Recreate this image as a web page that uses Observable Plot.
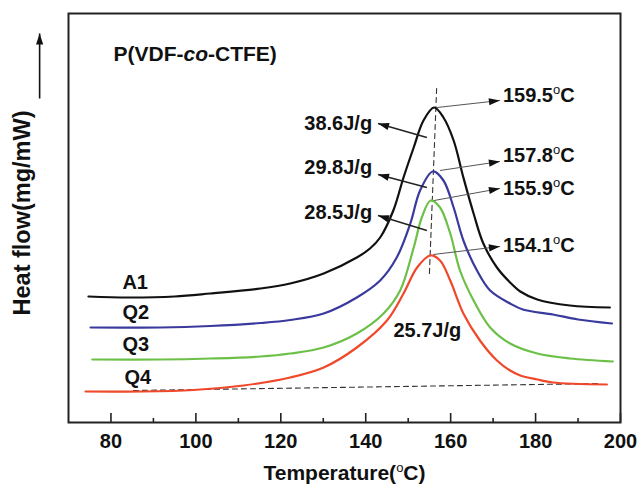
<!DOCTYPE html>
<html>
<head>
<meta charset="utf-8">
<script src="https://cdn.jsdelivr.net/npm/d3@7"></script>
<script src="https://cdn.jsdelivr.net/npm/@observablehq/plot@0.6"></script>
<style>
  html, body { margin: 0; padding: 0; background: white; }
</style>
</head>
<body>
<div id="chart"></div>
<script>
// ---- data (temperature in °C, heat flow in arbitrary stacked units) ----
const a1 = [[74.7,12.6],[84.0,12.5],[95.0,12.6],[103.4,12.9],[115.2,13.4],[122.2,13.9],[130.1,14.9],[137.9,16.5],[141.0,17.4],[143.4,18.5],[146.5,21.2],[148.9,24.5],[151.3,27.5],[153.6,30.2],[156.1,31.5],[158.3,30.5],[160.7,28.2],[163.0,24.5],[165.4,20.9],[167.7,17.9],[170.9,15.5],[174.0,14.0],[176.4,13.1],[180.4,12.3],[188.1,11.7],[197.5,11.5]];
const q2 = [[75.2,9.5],[91.6,9.5],[103.4,9.65],[115.2,9.95],[122.2,10.25],[130.1,10.9],[137.9,12.5],[143.4,14.2],[147.3,16.5],[150.5,19.9],[152.8,23.2],[155.8,25.1],[158.3,24.2],[160.7,21.5],[163.0,18.2],[166.2,15.2],[169.3,13.2],[174.0,11.9],[177.0,11.3],[184.1,10.8],[190.0,10.3],[198.0,9.9]];
const q3 = [[75.6,6.3],[91.6,6.3],[103.4,6.4],[115.2,6.6],[122.2,6.9],[130.1,7.5],[137.9,8.9],[144.2,10.9],[148.1,13.2],[151.3,17.5],[153.2,20.5],[155.3,22.2],[157.5,21.5],[159.9,18.9],[162.2,15.2],[165.4,12.2],[169.3,9.5],[174.0,7.9],[180.4,6.9],[188.1,6.4],[198.2,6.1]];
const q4 = [[74.0,3.1],[87.6,3.1],[99.4,3.25],[111.2,3.7],[122.2,4.5],[130.1,5.5],[137.9,7.5],[145.0,10.2],[148.9,12.9],[152.1,15.5],[155.2,16.7],[157.5,16.2],[159.9,14.2],[163.0,10.9],[166.9,8.2],[170.9,6.2],[174.0,5.2],[176.4,4.7],[180.4,4.3],[184.1,4.0],[196.8,3.8]];

const seriesNames = ["A1", "Q2", "Q3", "Q4"];
const seriesColors = ["#111111", "#3a3a9e", "#6cc048", "#f0482a"];
const seriesLabelPos = [[82.7,14.0],[82.7,11.0],[82.7,7.8],[83.2,4.5]];

const xTicks = [80, 100, 120, 140, 160, 180, 200];
const xMinorTicks = [90, 110, 130, 150, 170, 190];

const baseline = [[85.3,3.2],[195.5,3.9]];
const peakLine = [[156.7,33.4],[155.0,14.9]];

// peak-temperature annotations
const peakLabels = ["159.5°C", "157.8°C", "155.9°C", "154.1°C"];
const peakArrowFrom = [[156.8,31.5],[157.5,25.2],[156.1,22.2],[155.9,16.8]];
const peakArrowTo = [[171.6,32.2],[171.6,26.1],[171.6,23.4],[171.6,17.6]];
const peakTextPos = [[172.3,32.7],[172.3,26.7],[172.3,23.4],[172.3,17.7]];

// enthalpy annotations
const enthalpyLabels = ["38.6J/g", "29.8J/g", "28.5J/g"];
const enthalpyArrowFrom = [[154.4,28.5],[154.4,23.5],[154.4,19.2]];
const enthalpyArrowTo = [[142.9,29.9],[142.9,24.8],[142.9,20.7]];
const enthalpyTextPos = [[141.5,29.9],[141.5,25.5],[141.5,21.0]];
const q4Enthalpy = {text: "25.7J/g", pos: [154.5, 9.2]};

const title = {text: "P(VDF-co-CTFE)", pos: [80.6, 36.8]};
const xLabel = "Temperature(°C)";
const yLabel = "Heat flow(mg/mW)";
const yArrow = [[63.2,32.4,63.2,38.9]];

// ---- layout ----
const W = 639, H = 492, mL = 68, mR = 19, mT = 13, mB = 70;
const xDomain = [70, 200], yDomain = [0, 40.9];
const sx = Plot.scale({x: {domain: xDomain, range: [mL, W - mR]}});
const sy = Plot.scale({y: {domain: yDomain, range: [H - mB, mT]}});

// ---- build tables ----
const curves = [a1, q2, q3, q4].flatMap((arr, i) => arr.map(([t, v]) => ({series: seriesNames[i], t, v})));
const seriesLabelRows = seriesNames.map((s, i) => ({text: s, t: seriesLabelPos[i][0], v: seriesLabelPos[i][1]}));
const peakArrows = peakLabels.map((s, i) => ({x1: peakArrowFrom[i][0], y1: peakArrowFrom[i][1], x2: peakArrowTo[i][0], y2: peakArrowTo[i][1]}));
const enthArrows = enthalpyLabels.map((s, i) => ({x1: enthalpyArrowFrom[i][0], y1: enthalpyArrowFrom[i][1], x2: enthalpyArrowTo[i][0], y2: enthalpyArrowTo[i][1]}));
const yArrowRows = yArrow.map(([x1, y1, x2, y2]) => ({x1, y1, x2, y2}));
const allArrows = [...peakArrows, ...enthArrows, ...yArrowRows];
// arrowhead direction (screen angle) derived through the scales
const heads = allArrows.map(d => {
  const dx = sx.apply(d.x2) - sx.apply(d.x1);
  const dy = sy.apply(d.y2) - sy.apply(d.y1);
  return {x: d.x2, y: d.y2, rot: Math.atan2(dy, dx) * 180 / Math.PI + 90};
});
// narrow filled arrowhead symbol: tip at origin, pointing up
const arrowHead = {
  draw(context) {
    context.moveTo(0, 0);
    context.lineTo(-3.6, 11);
    context.lineTo(3.6, 11);
    context.closePath();
  }
};

const font = "'Liberation Sans', Arial, Helvetica, sans-serif";

const chart = Plot.plot({
  width: W,
  height: H,
  marginLeft: mL,
  marginRight: mR,
  marginTop: mT,
  marginBottom: mB,
  x: {domain: xDomain},
  y: {domain: yDomain, axis: null},
  color: {domain: seriesNames, range: seriesColors},
  style: {fontFamily: font, fontWeight: "bold", fontSize: "20px", background: "white", color: "#111", overflow: "visible"},
  marks: [
    Plot.frame({stroke: "#222", strokeWidth: 2}),
    Plot.tickX(xTicks, {x: d => d, insetTop: 400, stroke: "#222", strokeWidth: 1.6}),
    Plot.tickX(xMinorTicks, {x: d => d, insetTop: 405, stroke: "#222", strokeWidth: 1.6}),
    Plot.axisX(xTicks, {tickSize: 0, tickPadding: 11, fontSize: 20, fontWeight: "bold", label: null}),
    Plot.line(baseline, {x: d => d[0], y: d => d[1], stroke: "#333", strokeWidth: 1.1, strokeDasharray: "5,4"}),
    Plot.line(peakLine, {x: d => d[0], y: d => d[1], stroke: "#333", strokeWidth: 1.1, strokeDasharray: "5,4"}),
    Plot.line(curves, {x: "t", y: "v", z: "series", stroke: "series", curve: "catmull-rom", strokeWidth: 2.2}),
    Plot.link(peakArrows, {x1: "x1", y1: "y1", x2: "x2", y2: "y2", stroke: "#555", strokeWidth: 1}),
    Plot.link(enthArrows, {x1: "x1", y1: "y1", x2: "x2", y2: "y2", stroke: "#222", strokeWidth: 1.4}),
    Plot.link(yArrowRows, {x1: "x1", y1: "y1", x2: "x2", y2: "y2", stroke: "#111", strokeWidth: 1.6}),
    Plot.dot(heads, {x: "x", y: "y", rotate: "rot", symbol: arrowHead, r: 5, fill: "#111", stroke: "none"}),
    Plot.text(seriesLabelRows, {x: "t", y: "v", text: "text", textAnchor: "start", fontSize: 20, fontWeight: "bold", fill: "#111"}),
    Plot.text(peakLabels.map((s, i) => ({text: s, t: peakTextPos[i][0], v: peakTextPos[i][1]})), {x: "t", y: "v", text: "text", textAnchor: "start", fontSize: 20, fontWeight: "bold", fill: "#111"}),
    Plot.text(enthalpyLabels.map((s, i) => ({text: s, t: enthalpyTextPos[i][0], v: enthalpyTextPos[i][1]})), {x: "t", y: "v", text: "text", textAnchor: "end", fontSize: 20, fontWeight: "bold", fill: "#111"}),
    Plot.text([q4Enthalpy], {x: d => d.pos[0], y: d => d.pos[1], text: "text", textAnchor: "middle", fontSize: 20, fontWeight: "bold", fill: "#111"}),
    Plot.text([title], {x: d => d.pos[0], y: d => d.pos[1], text: "text", textAnchor: "start", fontSize: 21, fontWeight: "bold", fill: "#111"}),
    Plot.text([xLabel], {frameAnchor: "bottom", dy: 57, text: d => d, fontSize: 21, fontWeight: "bold", fill: "#111"}),
    Plot.text([yLabel], {frameAnchor: "left", dx: -46, dy: -5, rotate: -90, textAnchor: "middle", text: d => d, fontSize: 23.5, fontWeight: "bold", fill: "#111"})
  ]
});

document.getElementById("chart").appendChild(chart);

// typographic refinements: italic "co", superscript degree "o"
chart.querySelectorAll("text").forEach(t => {
  const s = t.textContent;
  if (s === title.text) {
    t.innerHTML = 'P(VDF-<tspan font-style="italic">co</tspan>-CTFE)';
  } else if (s.includes("°C")) {
    const [pre, post] = s.split("°C");
    t.innerHTML = pre + '<tspan dy="-8" font-size="13" font-weight="normal">o</tspan><tspan dy="8">C</tspan>' + post;
  }
});
</script>
</body>
</html>
